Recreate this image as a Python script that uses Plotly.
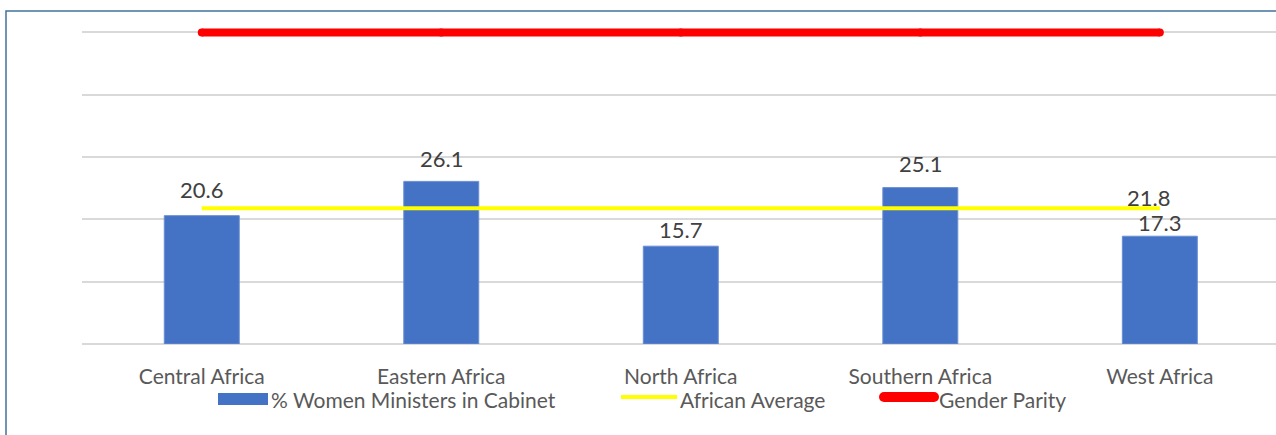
import plotly.graph_objects as go

# ---------------- data ----------------
regions = ["Central Africa", "Eastern Africa", "North Africa", "Southern Africa", "West Africa"]
women_ministers_pct = [20.6, 26.1, 15.7, 25.1, 17.3]
african_average = [21.8, 21.8, 21.8, 21.8, 21.8]
gender_parity = [50, 50, 50, 50, 50]
y_ticks = [0, 10, 20, 30, 40, 50]

series_names = ["% Women Ministers in Cabinet", "African Average", "Gender Parity"]

# ---------------- styling ----------------
W, H = 1276, 435
ML, MR, MT, MB = 82, 0, 20, 91
PW, PH = W - ML - MR, H - MT - MB
BAR_COLOR = "#4472C4"
AVG_COLOR = "#FFFF00"
PARITY_COLOR = "#FF0000"
GRID_COLOR = "#D9D9D9"
TEXT_COLOR = "#595959"
LABEL_COLOR = "#404040"
FONT = "Lato"
label_lift_px = [26, 23, 17, 24, 13.5]  # visual offset of data labels above bar tops


def px_x(p):
    return (p - ML) / PW


def px_y(p):
    return (H - MB - p) / PH


fig = go.Figure()

fig.add_trace(go.Bar(
    x=regions, y=women_ministers_pct, name=series_names[0],
    marker=dict(color=BAR_COLOR, line=dict(color="#6A8FD3", width=1)),
    width=0.313, showlegend=False, hoverinfo="x+y",
))
fig.add_trace(go.Scatter(
    x=regions, y=african_average, name=series_names[1], mode="lines",
    line=dict(color=AVG_COLOR, width=4), showlegend=False,
))
fig.add_trace(go.Scatter(
    x=regions, y=gender_parity, name=series_names[2], mode="lines+markers",
    line=dict(color=PARITY_COLOR, width=8),
    marker=dict(color=PARITY_COLOR, size=8, line=dict(width=0)),
    showlegend=False,
))

annotations = []
for i, (r, v) in enumerate(zip(regions, women_ministers_pct)):
    annotations.append(dict(
        x=r, y=v, xref="x", yref="y", text=f"{v:.1f}", showarrow=False,
        yanchor="middle", yshift=label_lift_px[i],
        font=dict(family=FONT, size=22, color=LABEL_COLOR),
    ))
annotations.append(dict(
    x=regions[-1], y=african_average[-1], xref="x", yref="y",
    text=f"{african_average[-1]:.1f}", showarrow=False,
    yanchor="middle", yshift=11, xshift=-11,
    font=dict(family=FONT, size=22, color=LABEL_COLOR),
))

# custom legend (wide swatches like the original)
legend_y = 400
legend_items = [
    (271, series_names[0]),
    (680, series_names[1]),
    (939, series_names[2]),
]
for xpos, name in legend_items:
    annotations.append(dict(
        x=px_x(xpos), y=px_y(legend_y), xref="paper", yref="paper",
        text=name, showarrow=False, xanchor="left", yanchor="middle",
        xshift=-2,
        font=dict(family=FONT, size=21, color=TEXT_COLOR),
    ))

shapes = [
    # legend swatches
    dict(type="rect", xref="paper", yref="paper",
         x0=px_x(218), x1=px_x(268), y0=px_y(405), y1=px_y(393),
         fillcolor=BAR_COLOR, line=dict(width=0)),
    dict(type="line", xref="paper", yref="paper",
         x0=px_x(621), x1=px_x(677), y0=px_y(397), y1=px_y(397),
         line=dict(color=AVG_COLOR, width=4)),
    dict(type="line", xref="paper", yref="paper",
         x0=px_x(884), x1=px_x(934), y0=px_y(397), y1=px_y(397),
         line=dict(color=PARITY_COLOR, width=10)),
    dict(type="circle", xref="paper", yref="paper",
         x0=px_x(879), x1=px_x(889), y0=px_y(402), y1=px_y(392),
         fillcolor=PARITY_COLOR, line=dict(width=0)),
    dict(type="circle", xref="paper", yref="paper",
         x0=px_x(929), x1=px_x(939), y0=px_y(402), y1=px_y(392),
         fillcolor=PARITY_COLOR, line=dict(width=0)),
    # outer frame
    dict(type="rect", xref="paper", yref="paper",
         x0=px_x(6), x1=px_x(1290), y0=px_y(450), y1=px_y(11),
         line=dict(color="#41719C", width=1.5), fillcolor="rgba(0,0,0,0)",
         layer="below"),
]

fig.update_layout(
    width=W, height=H,
    margin=dict(l=ML, r=MR, t=MT, b=MB, pad=0),
    paper_bgcolor="white", plot_bgcolor="white",
    font=dict(family=FONT, color=TEXT_COLOR),
    showlegend=False,
    annotations=annotations,
    shapes=shapes,
    xaxis=dict(
        range=[-0.5, 4.485], showgrid=False, showline=False, ticks="",
        tickfont=dict(family=FONT, size=21, color=TEXT_COLOR),
        ticklabelstandoff=18,
    ),
    yaxis=dict(
        range=[0, 52], tickvals=y_ticks, showticklabels=False,
        showgrid=True, gridcolor=GRID_COLOR, gridwidth=1.5,
        zeroline=True, zerolinecolor=GRID_COLOR, zerolinewidth=1.5,
        showline=False, ticks="",
    ),
)

fig.write_html(
    "out.html",
    config={"displayModeBar": False},
    post_script="document.body.style.margin='0';document.body.style.overflow='hidden';",
)
